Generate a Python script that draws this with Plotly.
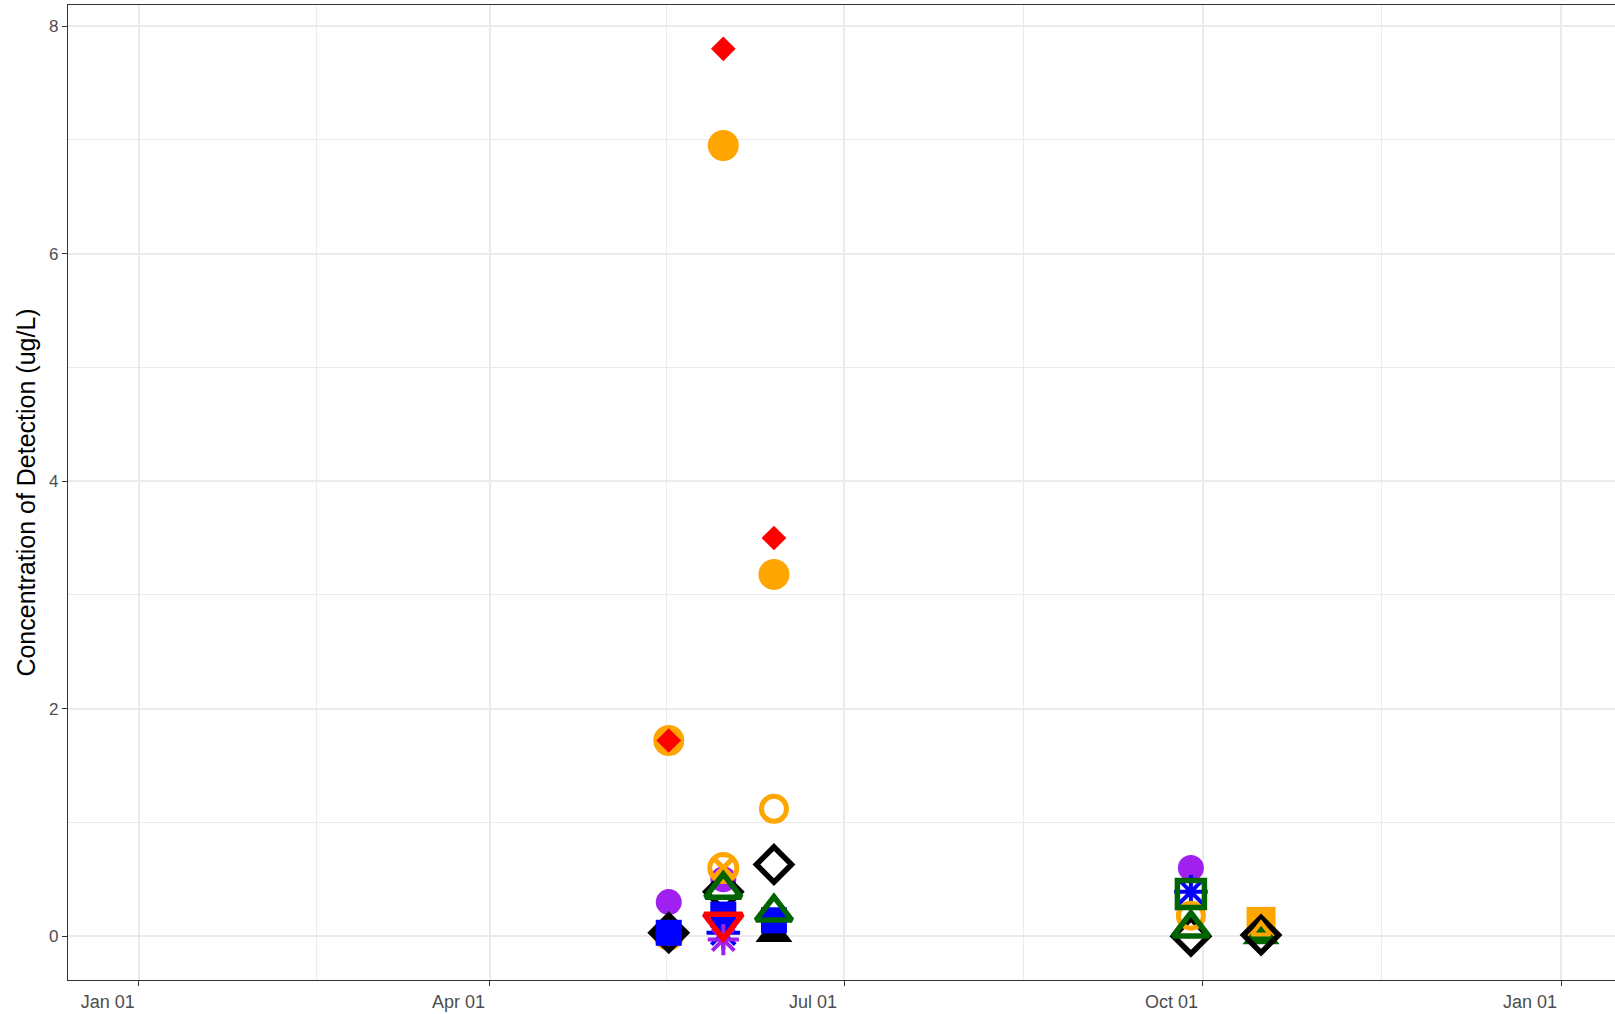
import plotly.graph_objects as go

# ---- data ----
x_ticks = ["2021-01-01", "2021-04-01", "2021-07-01", "2021-10-01", "2022-01-01"]
x_tick_labels = ["Jan 01", "Apr 01", "Jul 01", "Oct 01", "Jan 01"]
x_minor = ["2021-02-15 12:00", "2021-05-16 12:00", "2021-08-16", "2021-11-16"]
y_ticks = [0, 2, 4, 6, 8]
y_minor = [1, 3, 5, 7]

orange_fill_circle_x = ["2021-05-17", "2021-05-17", "2021-05-31", "2021-06-13"]
orange_fill_circle_y = [0.01, 1.72, 6.95, 3.18]
red_diamond_x = ["2021-05-17", "2021-05-31", "2021-06-13"]
red_diamond_y = [1.72, 7.80, 3.50]
purple_circle_x = ["2021-05-17", "2021-05-31", "2021-09-28"]
purple_circle_y = [0.30, 0.50, 0.60]
orange_square_x = ["2021-10-16"]
orange_square_y = [0.13]
green_fill_tri_x = ["2021-05-17", "2021-10-16"]
green_fill_tri_y = [0.08, 0.00]
black_fill_tri_x = ["2021-06-13"]
black_fill_tri_y = [0.02]
black_diamond_x = ["2021-05-17", "2021-05-31", "2021-06-13", "2021-09-28", "2021-10-16"]
black_diamond_y = [0.03, 0.39, 0.63, 0.00, 0.01]
blue_square_x = ["2021-05-17", "2021-05-31", "2021-06-13"]
blue_square_y = [0.03, 0.19, 0.14]
blue_star_x = ["2021-05-31", "2021-09-28"]
blue_star_y = [0.03, 0.39]
purple_star_x = ["2021-05-31"]
purple_star_y = [-0.03]
red_tri_down_x = ["2021-05-31"]
red_tri_down_y = [0.12]
orange_open_circle_x = ["2021-06-13", "2021-09-28"]
orange_open_circle_y = [1.12, 0.18]
orange_circle_x_x = ["2021-05-31"]
orange_circle_x_y = [0.60]
orange_open_tri_x = ["2021-10-16"]
orange_open_tri_y = [0.05]
green_open_square_x = ["2021-09-28"]
green_open_square_y = [0.37]
green_open_tri_x = ["2021-05-31", "2021-06-13", "2021-09-28"]
green_open_tri_y = [0.41, 0.21, 0.07]

ORANGE = "#FFA500"
RED = "#FF0000"
PURPLE = "#A020F0"
BLUE = "#0000FF"
GREEN = "#006400"
BLACK = "#000000"

series = [
    (orange_fill_circle_x, orange_fill_circle_y, "circle", ORANGE, 31, 0),
    (red_diamond_x, red_diamond_y, "diamond", RED, 19, 0),
    (purple_circle_x, purple_circle_y, "circle", PURPLE, 26, 0),
    (orange_square_x, orange_square_y, "square", ORANGE, 29, 0),
    (green_fill_tri_x, green_fill_tri_y, "triangle-up", GREEN, 32, 0),
    (black_fill_tri_x, black_fill_tri_y, "triangle-up", BLACK, 32, 0),
    (black_diamond_x, black_diamond_y, "diamond-open", BLACK, 27, 5.5),
    (blue_square_x, blue_square_y, "square", BLUE, 26, 0),
    (blue_star_x, blue_star_y, "asterisk-open", BLUE, 28, 4),
    (purple_star_x, purple_star_y, "asterisk-open", PURPLE, 26, 4),
    (red_tri_down_x, red_tri_down_y, "triangle-down-open", RED, 33, 5.5),
    (orange_open_circle_x, orange_open_circle_y, "circle-open", ORANGE, 25, 5),
    (orange_circle_x_x, orange_circle_x_y, "circle-x-open", ORANGE, 27, 5),
    (orange_open_tri_x, orange_open_tri_y, "triangle-up-open", ORANGE, 16, 4),
    (green_open_square_x, green_open_square_y, "square-open", GREEN, 27, 5.5),
    (green_open_tri_x, green_open_tri_y, "triangle-up-open", GREEN, 31, 5.5),
]

fig = go.Figure()
for xs, ys, sym, col, sz, lw in series:
    fig.add_trace(go.Scatter(
        x=xs, y=ys, mode="markers", showlegend=False,
        marker=dict(symbol=sym, color=col, size=sz,
                    line=dict(color=col, width=lw)),
    ))

FONT = "Liberation Sans, Arial, sans-serif"

fig.update_layout(
    width=1615, height=1014, autosize=False,
    margin=dict(l=68, r=0, t=5, b=34),
    paper_bgcolor="white", plot_bgcolor="white",
    font=dict(family=FONT),
    xaxis=dict(
        type="date",
        range=["2020-12-13 20:00", "2022-01-14 20:00"],
        tickmode="array", tickvals=x_ticks, ticktext=x_tick_labels,
        ticks="outside", ticklen=5, tickwidth=1.3, tickcolor="#333333",
        tickfont=dict(family=FONT, size=18, color="#4D4D4D"), ticklabelshift=-31,
        showgrid=True, gridcolor="#EBEBEB", gridwidth=2,
        minor=dict(tickmode="array", tickvals=x_minor, showgrid=True,
                   gridcolor="#EBEBEB", gridwidth=1, ticks=""),
        showline=True, linecolor="#333333", linewidth=1.3, mirror=True,
        zeroline=False,
    ),
    yaxis=dict(
        range=[-0.385, 8.185],
        tickmode="array", tickvals=y_ticks, ticktext=[str(v) for v in y_ticks],
        ticks="outside", ticklen=5, tickwidth=1.3, tickcolor="#333333",
        tickfont=dict(family=FONT, size=17, color="#4D4D4D"),
        showgrid=True, gridcolor="#EBEBEB", gridwidth=2,
        minor=dict(tickmode="array", tickvals=y_minor, showgrid=True,
                   gridcolor="#EBEBEB", gridwidth=1, ticks=""),
        showline=True, linecolor="#333333", linewidth=1.3, mirror=False,
        zeroline=False,
        title=dict(text="Concentration of Detection (ug/L)",
                   font=dict(family=FONT, size=25, color="black"),
                   standoff=6),
    ),
)

fig.write_html("out.html", config={"displayModeBar": False},
               post_script="document.body.style.margin='0px';")
